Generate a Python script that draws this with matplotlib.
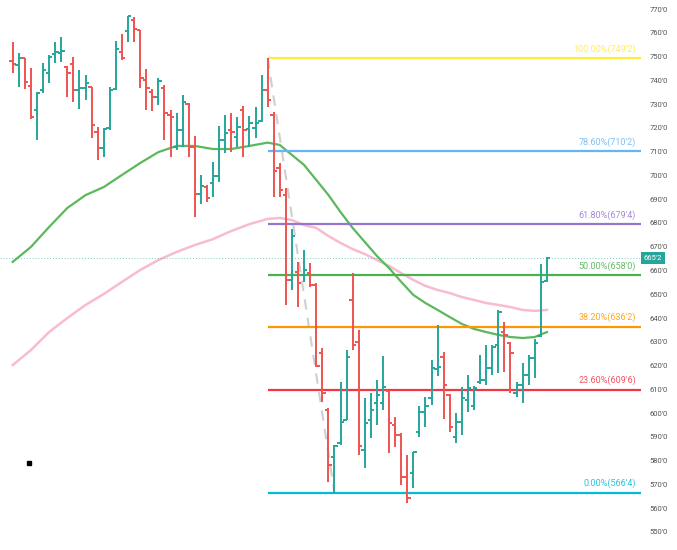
import matplotlib
matplotlib.use("Agg")
import matplotlib.pyplot as plt
import matplotlib.transforms as mtransforms
import numpy as np

# OHLC bars (price in cents)
opens = [748.0, 746.4, 749.3, 737.6, 727.5, 735.9, 743.0, 751.1, 751.5, 745.7,
         746.7, 735.9, 736.6, 737.0, 718.4, 711.4, 719.8, 736.3, 752.0, 760.9,
         765.4, 761.0, 740.1, 735.2, 733.1, 736.6, 725.4, 712.1, 719.1, 730.0,
         712.1, 692.2, 695.2, 696.7, 699.9, 714.9, 719.1, 716.3, 727.5, 719.4,
         720.0, 722.8, 735.9, 725.4, 703.1, 691.7, 656.0, 659.4, 658.1, 658.9,
         653.9, 625.3, 601.3, 581.7, 587.4, 597.3, 647.6, 630.0, 584.5, 597.1,
         604.1, 604.1, 609.3, 595.0, 590.8, 573.2, 574.9, 592.2, 600.6, 606.2,
         618.5, 623.7, 607.6, 590.1, 596.4, 605.5, 603.0, 613.0, 613.9, 618.8,
         628.6, 634.0, 629.4, 608.4, 611.8, 616.0, 623.2, 632.3, 655.5]
highs = [756.0, 751.6, 749.5, 745.1, 735.2, 747.2, 750.6, 756.2, 758.3, 746.0,
         749.9, 744.3, 742.2, 737.3, 720.2, 719.8, 737.3, 756.7, 759.5, 767.2,
         766.8, 761.2, 744.6, 736.2, 740.8, 738.0, 727.5, 726.1, 733.8, 730.6,
         716.6, 700.2, 696.0, 705.8, 720.8, 725.4, 726.1, 724.4, 729.2, 725.0,
         728.9, 742.2, 749.25, 726.8, 705.1, 694.6, 677.3, 663.6, 668.6, 663.1,
         654.7, 627.4, 602.1, 586.6, 613.2, 626.5, 659.1, 635.0, 606.2, 608.3,
         613.9, 624.0, 609.7, 598.5, 591.5, 582.4, 583.8, 603.0, 606.9, 622.3,
         637.1, 625.8, 608.0, 600.2, 610.8, 616.0, 611.4, 624.4, 628.6, 628.6,
         643.4, 638.4, 630.0, 613.2, 620.9, 624.4, 631.0, 662.7, 665.75]
lows = [743.2, 737.1, 736.2, 723.6, 714.9, 734.5, 739.0, 747.4, 747.7, 733.1,
        731.0, 727.8, 731.7, 715.6, 706.5, 707.9, 719.1, 735.9, 748.5, 756.2,
        756.2, 736.9, 727.5, 727.2, 729.6, 714.9, 707.6, 710.7, 712.1, 707.6,
        682.6, 687.8, 688.9, 691.0, 697.3, 709.3, 710.0, 711.8, 707.9, 712.1,
        715.6, 722.6, 728.9, 691.0, 691.0, 645.5, 651.8, 644.8, 655.3, 653.2,
        619.5, 604.8, 571.1, 566.5, 586.6, 597.1, 626.5, 582.4, 576.8, 589.4,
        595.0, 601.3, 583.1, 585.9, 569.7, 562.0, 568.4, 589.8, 594.3, 603.4,
        615.6, 597.4, 592.2, 587.3, 590.8, 600.6, 601.3, 612.2, 611.8, 616.0,
        616.7, 617.4, 608.3, 606.9, 604.1, 611.8, 614.6, 632.1, 655.3]
closes = [746.9, 749.3, 739.4, 724.7, 734.8, 744.3, 750.0, 752.0, 752.5, 743.0,
          735.9, 736.6, 739.0, 721.2, 711.4, 719.5, 735.9, 753.0, 749.5, 767.1,
          761.5, 740.8, 736.6, 733.1, 739.7, 726.1, 724.4, 719.1, 731.0, 712.1,
          692.2, 695.5, 690.6, 699.7, 714.9, 717.8, 718.4, 720.5, 719.1, 721.9,
          722.0, 735.9, 731.7, 702.0, 693.9, 656.0, 674.5, 654.7, 660.2, 653.9,
          619.8, 608.5, 578.2, 586.2, 596.4, 623.7, 628.6, 586.2, 595.7, 601.3,
          607.6, 611.1, 595.8, 590.8, 573.2, 564.1, 583.6, 600.6, 603.0, 618.8,
          619.5, 612.0, 594.3, 596.4, 606.2, 610.4, 610.4, 614.0, 618.8, 628.0,
          642.7, 633.0, 625.2, 611.8, 616.0, 623.2, 629.5, 655.3, 665.25]

# moving averages, sampled every few bars
ma_idx = [0, 3, 6, 9, 12, 15, 18, 21, 24, 27, 30, 33, 36, 39, 42, 44, 46, 48,
          50, 52, 54, 56, 58, 60, 62, 64, 66, 68, 70, 72, 74, 76, 78, 80, 82,
          84, 86, 88]
ma_fast = [663.6, 669.9, 678.3, 686.3, 691.7, 695.1, 700.2, 705.2, 709.8,
           712.4, 712.4, 711.1, 711.1, 712.4, 713.8, 712.8, 708.6, 704.4,
           698.1, 691.8, 684.6, 677.9, 672.0, 666.1, 661.0, 655.2, 649.7,
           646.3, 643.4, 640.4, 637.5, 635.4, 634.1, 632.9, 632.0, 631.6,
           632.0, 634.1]
ma_slow = [620.2, 626.5, 634.1, 640.0, 645.5, 650.1, 655.2, 660.2, 664.4,
           667.8, 670.7, 673.2, 676.6, 679.5, 681.7, 682.1, 681.2, 679.1,
           677.9, 674.5, 671.6, 669.0, 666.9, 664.4, 661.9, 658.9, 656.0,
           653.5, 651.8, 650.5, 648.8, 647.6, 646.3, 645.5, 644.6, 643.4,
           643.0, 643.4]

# fibonacci retracement
fib_start = 42
fib_end = 53
fib_ratios = ["100.00%", "78.60%", "61.80%", "50.00%", "38.20%", "23.60%", "0.00%"]
fib_prices = [749.25, 710.25, 679.5, 658.0, 636.25, 609.75, 566.5]
fib_labels = ["749'2", "710'2", "679'4", "658'0", "636'2", "609'6", "566'4"]
fib_colors = ["#ffeb3b", "#64b5f6", "#9575cd", "#4caf50", "#ff9800", "#f23645", "#00bcd4"]

last_price = 665.25
last_label = "665'2"
price_ticks = list(range(550, 771, 10))

dot_x = [2.7]
dot_y = [579.0]

UP = "#26a69a"
DOWN = "#ef5350"


def main():
    plt.rcParams['font.family'] = ['Roboto', 'DejaVu Sans']
    fig = plt.figure(figsize=(6.77, 5.5), dpi=100)
    ax = fig.add_axes([0, 0, 641 / 677, 1])
    ax.set_xlim(-2.09, 103.5)
    ax.set_ylim(542.4, 773.8)

    for s in ax.spines.values():
        s.set_visible(False)
    ax.xaxis.set_visible(False)
    ax.yaxis.tick_right()
    ax.set_yticks(price_ticks)
    ax.set_yticklabels([f"{v}'0" for v in price_ticks], fontsize=5.5, color='#555555')
    ax.tick_params(axis='y', length=0, pad=6)

    # fib levels
    x_right = ax.get_xlim()[1]
    blend = mtransforms.blended_transform_factory(ax.transAxes, ax.transData)
    for r, p, lab, c in zip(fib_ratios, fib_prices, fib_labels, fib_colors):
        ax.hlines(p, fib_start, x_right, color=c, lw=1.6, zorder=2)
        ax.annotate(f"{r}({lab})", xy=(0.992, p), xycoords=blend,
                    xytext=(0, 3.2), textcoords='offset points',
                    ha='right', va='bottom', fontsize=6.5, color=c, alpha=0.85)

    # trend line from high to low
    ax.plot([fib_start, fib_end], [fib_prices[0], fib_prices[-1]],
            color='#cfcfcf', lw=1.5, ls=(0, (5, 4)), zorder=1)

    # moving averages
    ax.plot(ma_idx, ma_slow, color='#f8bbd0', lw=1.8, zorder=1)
    ax.plot(ma_idx, ma_fast, color='#5cb85c', lw=1.6, zorder=1)

    # OHLC bars
    for i, (o, h, l, c) in enumerate(zip(opens, highs, lows, closes)):
        col = UP if c >= o else DOWN
        ax.vlines(i, l, h, color=col, lw=1.4, zorder=3)
        ax.hlines(o, i - 0.55, i, color=col, lw=1.4, zorder=3)
        ax.hlines(c, i, i + 0.55, color=col, lw=1.4, zorder=3)

    # last price line and tag
    ax.axhline(last_price, color=UP, lw=0.7, ls=(0, (1, 2)), alpha=0.6, zorder=1)
    ax.text(1.0 + 3 / 641, last_price, last_label, transform=blend,
            ha='left', va='center', fontsize=5.5, color='white', clip_on=False,
            bbox=dict(boxstyle='square,pad=0.35', fc=UP, ec='none'), zorder=5)

    ax.plot(dot_x, dot_y, marker='s', ms=2.2, color='black', ls='none')

    fig.savefig('out.png', dpi=100)


if __name__ == '__main__':
    main()
